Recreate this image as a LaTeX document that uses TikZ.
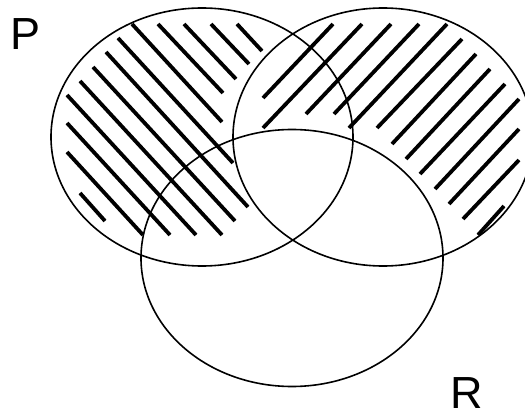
\documentclass[tikz,border=0pt]{standalone}
\usepackage{fontspec}
\setmainfont{Liberation Sans}
\begin{document}
\begin{tikzpicture}[x=1pt,y=-1pt,
  setline/.style={draw=black,line width=1.6pt},
  hatchline/.style={draw=black,line width=3.8pt},
  setlabel/.style={font=\fontsize{45}{45}\selectfont,inner sep=0pt,text=black}]
\useasboundingbox[fill=white] (0,0) rectangle (525,417);
% hatching in P (backslash direction)
\foreach \a/\b/\c/\d in {80/193/105/221, 67/152/143/235, 67/123/170/235, 67/95/196/235,
  80/81/222/235, 93/67/235/221, 106/52/248/207, 118/38/233/163, 132/24/222/122,
  158/24/223/93, 184/24/236/79, 211/24/249/64, 237/24/262/51}
  \draw[hatchline] (\a,\b) -- (\c,\d);
% hatching in Q (slash direction)
\foreach \a/\b/\c/\d in {263/98/333/24, 263/128/362/24, 306/114/391/24, 334/114/419/24,
  349/128/447/24, 377/128/462/39, 392/144/476/54, 406/159/490/69, 420/174/505/84,
  435/189/519/99, 449/204/519/129, 463/219/519/160, 478/235/504/206}
  \draw[hatchline] (\a,\b) -- (\c,\d);
% sets
\draw[setline] (202,137) ellipse [x radius=151, y radius=129];
\draw[setline] (383,137) ellipse [x radius=150, y radius=129];
\draw[setline] (292,258) ellipse [x radius=151, y radius=128.5];
% labels
\node[setlabel] (lp) at (26,34.5) {P};
\node[setlabel] (lr) at (467,393) {R};
\end{tikzpicture}
\end{document}
